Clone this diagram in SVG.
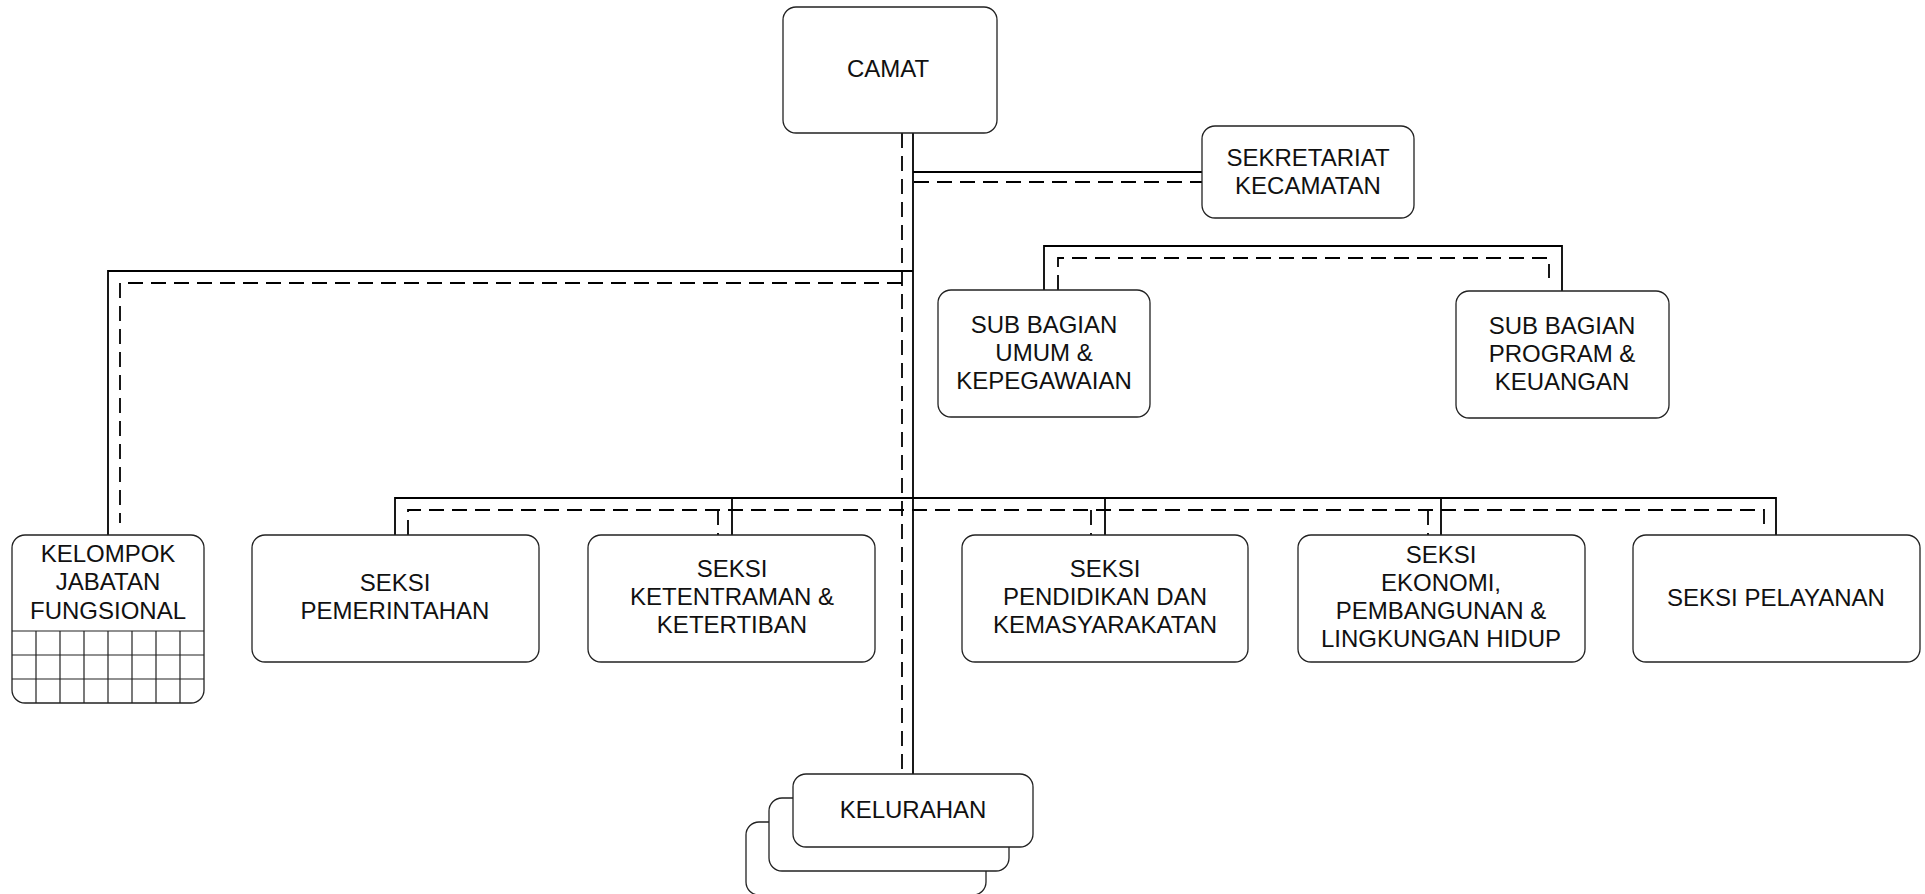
<svg xmlns="http://www.w3.org/2000/svg" width="1925" height="894" viewBox="0 0 1925 894">
<style>
.box{fill:#fff;stroke:#222;stroke-width:1.3}
.grid{fill:none;stroke:#222;stroke-width:1.2}
.sol{fill:none;stroke:#000;stroke-width:1.8}
.dash{fill:none;stroke:#000;stroke-width:1.8;stroke-dasharray:15 8}
text{font-family:"Liberation Sans",Arial,sans-serif;font-size:24px;fill:#111;text-anchor:middle}
</style>
<rect width="1925" height="894" fill="#fff"/>
<g id="connectors">
<path class="sol" d="M913 133V774"/>
<path class="sol" d="M913 172H1202"/>
<path class="sol" d="M913 271H108V535"/>
<path class="sol" d="M1044 290V246H1562V291"/>
<path class="sol" d="M395 535V498H1776V535"/>
<path class="sol" d="M732 498V535M1105 498V535M1441 498V535"/>
<path class="dash" d="M902 133V770"/>
<path class="dash" d="M914 182H1202"/>
<path class="dash" d="M902 283H120V523"/>
<path class="dash" d="M1058 290V258H1549V278"/>
<path class="dash" d="M408 535V510H1764V527"/>
<path class="dash" d="M718 510V535M1091 510V535M1428 510V535"/>
</g>
<g id="camat">
<rect class="box" x="783" y="7" width="214" height="126" rx="13"/>
<text x="888" y="77">CAMAT</text>
</g>
<g id="sekretariat">
<rect class="box" x="1202" y="126" width="212" height="92" rx="13"/>
<text x="1308" y="166">SEKRETARIAT</text>
<text x="1308" y="194">KECAMATAN</text>
</g>
<g id="subbag-umum">
<rect class="box" x="938" y="290" width="212" height="127" rx="13"/>
<text x="1044" y="333">SUB BAGIAN</text>
<text x="1044" y="361">UMUM &amp;</text>
<text x="1044" y="389">KEPEGAWAIAN</text>
</g>
<g id="subbag-program">
<rect class="box" x="1456" y="291" width="213" height="127" rx="13"/>
<text x="1562" y="334">SUB BAGIAN</text>
<text x="1562" y="362">PROGRAM &amp;</text>
<text x="1562" y="390">KEUANGAN</text>
</g>
<g id="kelompok">
<rect class="box" x="12" y="535" width="192" height="168" rx="13"/>
<path class="grid" d="M12 631H204M12 655H204M12 679H204M36 631V703M60 631V703M84 631V703M108 631V703M132 631V703M156 631V703M180 631V703"/>
<text x="108" y="562">KELOMPOK</text>
<text x="108" y="590">JABATAN</text>
<text x="108" y="619">FUNGSIONAL</text>
</g>
<g id="seksi-pemerintahan">
<rect class="box" x="252" y="535" width="287" height="127" rx="13"/>
<text x="395" y="591">SEKSI</text>
<text x="395" y="619">PEMERINTAHAN</text>
</g>
<g id="seksi-ketentraman">
<rect class="box" x="588" y="535" width="287" height="127" rx="13"/>
<text x="732" y="577">SEKSI</text>
<text x="732" y="605">KETENTRAMAN &amp;</text>
<text x="732" y="633">KETERTIBAN</text>
</g>
<g id="seksi-pendidikan">
<rect class="box" x="962" y="535" width="286" height="127" rx="13"/>
<text x="1105" y="577">SEKSI</text>
<text x="1105" y="605">PENDIDIKAN DAN</text>
<text x="1105" y="633">KEMASYARAKATAN</text>
</g>
<g id="seksi-ekonomi">
<rect class="box" x="1298" y="535" width="287" height="127" rx="13"/>
<text x="1441" y="563">SEKSI</text>
<text x="1441" y="591">EKONOMI,</text>
<text x="1441" y="619">PEMBANGUNAN &amp;</text>
<text x="1441" y="647">LINGKUNGAN HIDUP</text>
</g>
<g id="seksi-pelayanan">
<rect class="box" x="1633" y="535" width="287" height="127" rx="13"/>
<text x="1776" y="606">SEKSI PELAYANAN</text>
</g>
<g id="kelurahan">
<rect class="box" x="746" y="822" width="240" height="73" rx="13"/>
<rect class="box" x="769" y="798" width="240" height="73" rx="13"/>
<rect class="box" x="793" y="774" width="240" height="73" rx="13"/>
<text x="913" y="818">KELURAHAN</text>
</g>
</svg>
